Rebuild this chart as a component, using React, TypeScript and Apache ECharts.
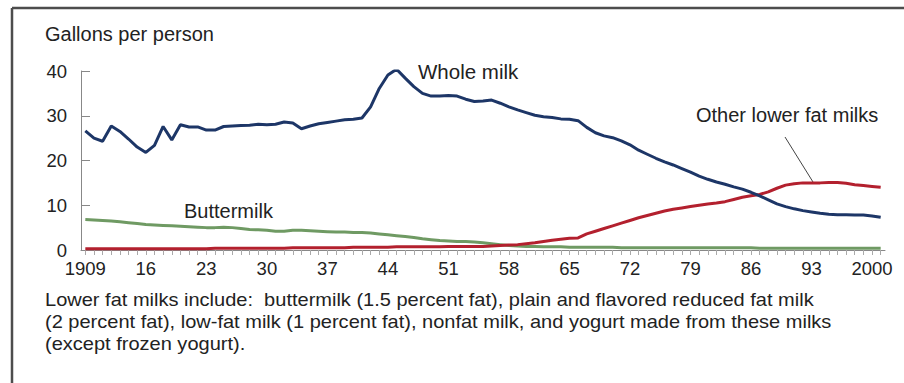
import React, { useEffect, useRef } from "react";
import * as echarts from "echarts";

// Per-capita fluid milk consumption, gallons per person, 1909–2001
const years: string[] = [];
for (let y = 1909; y <= 2001; y++) years.push(String(y));

const wholeMilk = [
  26.6, 25.0, 24.3, 27.7, 26.5, 24.8, 23.0, 21.8, 23.4, 27.6,
  24.6, 28.0, 27.5, 27.5, 26.8, 26.8, 27.6, 27.7, 27.8, 27.9,
  28.1, 28.0, 28.1, 28.6, 28.4, 27.1, 27.7, 28.2, 28.5, 28.8,
  29.1, 29.2, 29.5, 32.0, 36.1, 39.1, 40.4, 38.4, 36.5, 35.0,
  34.4, 34.4, 34.5, 34.4, 33.7, 33.2, 33.3, 33.5, 32.8, 32.0,
  31.3, 30.7, 30.1, 29.8, 29.6, 29.3, 29.2, 28.9, 27.4, 26.2,
  25.5, 25.1, 24.4, 23.5, 22.3, 21.4, 20.5, 19.7, 19.0, 18.2,
  17.4, 16.5, 15.8, 15.2, 14.7, 14.1, 13.6, 12.9, 12.1, 11.2,
  10.3, 9.7, 9.2, 8.8, 8.5, 8.2, 8.0, 7.9, 7.9, 7.8,
  7.8, 7.6, 7.3,
];

const otherLowerFat = [
  0.3, 0.3, 0.3, 0.3, 0.3, 0.3, 0.3, 0.3, 0.3, 0.3,
  0.3, 0.3, 0.3, 0.3, 0.3, 0.4, 0.4, 0.4, 0.4, 0.4,
  0.4, 0.4, 0.4, 0.4, 0.5, 0.5, 0.5, 0.5, 0.5, 0.5,
  0.5, 0.6, 0.6, 0.6, 0.6, 0.6, 0.7, 0.7, 0.7, 0.7,
  0.7, 0.7, 0.8, 0.8, 0.8, 0.8, 0.8, 0.9, 1.0, 1.1,
  1.2, 1.4, 1.6, 1.9, 2.2, 2.4, 2.6, 2.7, 3.6, 4.2,
  4.8, 5.4, 6.0, 6.6, 7.2, 7.7, 8.2, 8.7, 9.1, 9.4,
  9.7, 10.0, 10.3, 10.5, 10.8, 11.3, 11.8, 12.1, 12.4, 13.0,
  13.8, 14.5, 14.8, 15.0, 15.0, 15.0, 15.1, 15.1, 14.9, 14.6,
  14.4, 14.2, 14.0,
];

const buttermilk = [
  6.8, 6.7, 6.6, 6.5, 6.3, 6.1, 5.9, 5.7, 5.6, 5.5,
  5.4, 5.3, 5.2, 5.1, 5.0, 5.0, 5.1, 5.0, 4.8, 4.6,
  4.5, 4.4, 4.2, 4.2, 4.4, 4.4, 4.3, 4.2, 4.1, 4.0,
  4.0, 3.9, 3.9, 3.8, 3.6, 3.4, 3.2, 3.0, 2.8, 2.5,
  2.3, 2.1, 2.0, 1.9, 1.9, 1.8, 1.6, 1.4, 1.2, 1.0,
  0.9, 0.8, 0.8, 0.7, 0.7, 0.7, 0.6, 0.6, 0.6, 0.6,
  0.6, 0.6, 0.5, 0.5, 0.5, 0.5, 0.5, 0.5, 0.5, 0.5,
  0.5, 0.5, 0.5, 0.5, 0.5, 0.5, 0.5, 0.5, 0.4, 0.4,
  0.4, 0.4, 0.4, 0.4, 0.4, 0.4, 0.4, 0.4, 0.4, 0.4,
  0.4, 0.4, 0.4,
];

const yTicks = [0, 10, 20, 30, 40];

const footnoteLines = [
  "Lower fat milks include:  buttermilk (1.5 percent fat), plain and flavored reduced fat milk",
  "(2 percent fat), low-fat milk (1 percent fat), nonfat milk, and yogurt made from these milks",
  "(except frozen yogurt).",
];

const FONT = "'Liberation Sans', Arial, Helvetica, sans-serif";
const TEXT = "#222";

export default function App() {
  const ref = useRef<HTMLDivElement>(null);

  useEffect(() => {
    if (!ref.current) return;
    const chart = echarts.init(ref.current, undefined, { renderer: "svg" });

    const lineSeries = (name: string, data: number[], color: string) => ({
      name,
      type: "line",
      data,
      symbol: "none",
      smooth: false,
      lineStyle: { color, width: 3 },
      emphasis: { disabled: true },
    });

    chart.setOption({
      animation: false,
      backgroundColor: "#fff",
      textStyle: { fontFamily: FONT },
      grid: { left: 81, top: 71, right: 19, bottom: 133, containLabel: false },
      xAxis: {
        type: "category",
        data: years,
        boundaryGap: true,
        axisLine: { lineStyle: { color: "#888", width: 1 } },
        axisTick: { show: true, interval: 0, alignWithLabel: true, length: 5, lineStyle: { color: "#aaa" } },
        axisLabel: {
          interval: 6,
          margin: 9,
          color: TEXT,
          fontSize: 18.5,
          fontFamily: FONT,
          formatter: (v: string) => (v === "1909" || v === "2000" ? v : v.slice(2)),
        },
        splitLine: { show: false },
      },
      yAxis: {
        type: "value",
        min: yTicks[0],
        max: yTicks[yTicks.length - 1],
        interval: 10,
        axisLine: { show: true, lineStyle: { color: "#888", width: 1 } },
        axisTick: { show: true, inside: true, length: 9, lineStyle: { color: "#888" } },
        axisLabel: { margin: 14, color: TEXT, fontSize: 18.5, fontFamily: FONT },
        splitLine: { show: false },
      },
      series: [
        lineSeries("Buttermilk", buttermilk, "#6f9a63"),
        lineSeries("Other lower fat milks", otherLowerFat, "#b3202e"),
        lineSeries("Whole milk", wholeMilk, "#1d3667"),
      ],
      graphic: [
        // frame edges
        { type: "line", shape: { x1: 12, y1: 8, x2: 904, y2: 8 }, style: { stroke: "#4d4d4d", lineWidth: 2.5 } },
        { type: "line", shape: { x1: 12, y1: 8, x2: 12, y2: 383 }, style: { stroke: "#4d4d4d", lineWidth: 2.5 } },
        {
          type: "text", left: 45, top: 24,
          style: { text: "Gallons per person", fill: TEXT, fontSize: 20, fontFamily: FONT },
        },
        {
          type: "text", left: 418, top: 61,
          style: { text: "Whole milk", fill: TEXT, fontSize: 20.5, fontFamily: FONT },
        },
        {
          type: "text", left: 696, top: 105,
          style: { text: "Other lower fat milks", fill: TEXT, fontSize: 20, fontFamily: FONT },
        },
        { type: "line", shape: { x1: 785, y1: 137, x2: 813, y2: 182 }, style: { stroke: "#444", lineWidth: 1 } },
        {
          type: "text", left: 184, top: 201,
          style: { text: "Buttermilk", fill: TEXT, fontSize: 20, fontFamily: FONT },
        },
        // footnote, set slightly wide
        ...footnoteLines.map((t, i) => ({
          type: "text", x: 45, y: 300 + i * 22, scaleX: 1.1, scaleY: 1,
          style: { text: t, fill: TEXT, fontSize: 18.2, fontFamily: FONT, verticalAlign: "middle", align: "left" },
        })),
      ],
    });

    return () => chart.dispose();
  }, []);

  return (
    <div
      ref={ref}
      style={{ position: "fixed", left: 0, top: 0, width: 904, height: 383, background: "#fff" }}
    />
  );
}
